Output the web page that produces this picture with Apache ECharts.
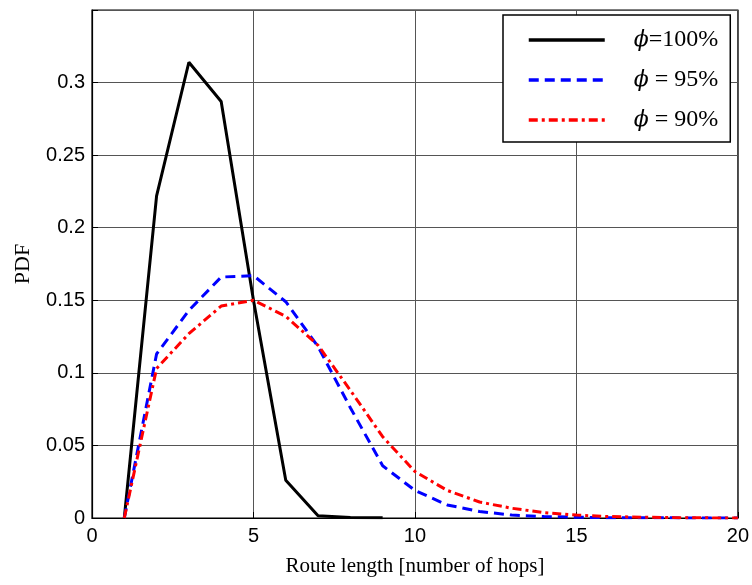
<!DOCTYPE html>
<html>
<head>
<meta charset="utf-8">
<script src="https://cdn.jsdelivr.net/npm/echarts@6/dist/echarts.min.js"></script>
<style>
  html, body { margin: 0; padding: 0; background: #fff; }
  #chart { width: 752px; height: 585px; }
</style>
</head>
<body>
<div id="chart"></div>
<script>
// route length (hops)
const hops = [1, 2, 3, 4, 5, 6, 7, 8, 9, 10, 11, 12, 13, 14, 15, 16, 17, 18, 19, 20]
const phi100 = [0, 0.222, 0.314, 0.287, 0.15, 0.026, 0.0016, 0.0004, 0.0001]
const phi95 = [0, 0.113, 0.143, 0.166, 0.167, 0.149, 0.118, 0.076, 0.036, 0.019, 0.009, 0.0045, 0.002, 0.001, 0.0005, 0.0002, 0.0001, 0.0001, 0, 0]
const phi90 = [0, 0.103, 0.127, 0.146, 0.150, 0.139, 0.119, 0.088, 0.056, 0.032, 0.019, 0.011, 0.0067, 0.0037, 0.002, 0.001, 0.0006, 0.0003, 0.0001, 0]
const seriesNames = ['{i|ϕ}=100%', '{i|ϕ} = 95%', '{i|ϕ} = 90%']

const pair = arr => arr.map((v, i) => [hops[i], v])

const chart = echarts.init(document.getElementById('chart'))

const option = {
  animation: false,
  grid: {
    left: 92,
    right: 14,
    top: 10,
    bottom: 67,
    show: true,
    borderColor: '#000',
    borderWidth: 1.2
  },
  legend: {
    data: seriesNames,
    orient: 'vertical',
    left: 503,
    top: 15,
    padding: [12, 12, 9, 24],
    itemWidth: 76,
    itemHeight: 14,
    itemGap: 14,
    borderColor: '#000',
    borderWidth: 1.5,
    backgroundColor: '#fff',
    // hide the marker dot, keep only the line
    itemStyle: { opacity: 0 },
    lineStyle: { width: 3.5 },
    textStyle: {
      fontFamily: 'Liberation Serif',
      fontSize: 24,
      lineHeight: 26,
      color: '#000',
      padding: [0, 0, 0, 24],
      rich: {
        i: { fontFamily: 'DejaVu Serif', fontStyle: 'italic', fontSize: 22, lineHeight: 26, color: '#000' }
      }
    }
  },
  xAxis: {
    type: 'value',
    min: 0,
    max: 20,
    interval: 5,
    name: 'Route length [number of hops]',
    nameLocation: 'middle',
    nameGap: 38,
    nameTextStyle: { fontFamily: 'Liberation Serif', fontSize: 21, color: '#000' },
    axisLine: { lineStyle: { color: '#000', width: 1.2 } },
    axisTick: { inside: true, length: 6, lineStyle: { color: '#000' } },
    axisLabel: { fontFamily: 'Liberation Sans', fontSize: 20, color: '#000', margin: 8 },
    splitLine: { show: true, lineStyle: { color: '#555', width: 1 } }
  },
  yAxis: {
    type: 'value',
    min: 0,
    max: 0.35,
    interval: 0.05,
    name: 'PDF',
    nameLocation: 'middle',
    nameGap: 58,
    nameTextStyle: { fontFamily: 'Liberation Serif', fontSize: 22, color: '#000' },
    axisLine: { show: true, lineStyle: { color: '#000', width: 1.2 } },
    axisTick: { show: true, inside: true, length: 6, lineStyle: { color: '#000' } },
    axisLabel: {
      fontFamily: 'Liberation Sans',
      fontSize: 20,
      color: '#000',
      margin: 7,
      formatter: v => (Math.abs(v - 0.35) < 1e-9 ? '' : String(+v.toFixed(2)))
    },
    splitLine: { show: true, lineStyle: { color: '#555', width: 1 } }
  },
  series: [
    {
      name: seriesNames[0],
      type: 'line',
      data: pair(phi100),
      symbol: 'none',
      lineStyle: { color: '#000', width: 3 },
      itemStyle: { color: '#000' }
    },
    {
      name: seriesNames[1],
      type: 'line',
      data: pair(phi95),
      symbol: 'none',
      lineStyle: { color: '#0000ff', width: 3, type: [10, 6] },
      itemStyle: { color: '#0000ff' }
    },
    {
      name: seriesNames[2],
      type: 'line',
      data: pair(phi90),
      symbol: 'none',
      lineStyle: { color: '#ff0000', width: 3, type: [9, 4, 3, 4] },
      itemStyle: { color: '#ff0000' }
    }
  ]
}

chart.setOption(option)
</script>
</body>
</html>
